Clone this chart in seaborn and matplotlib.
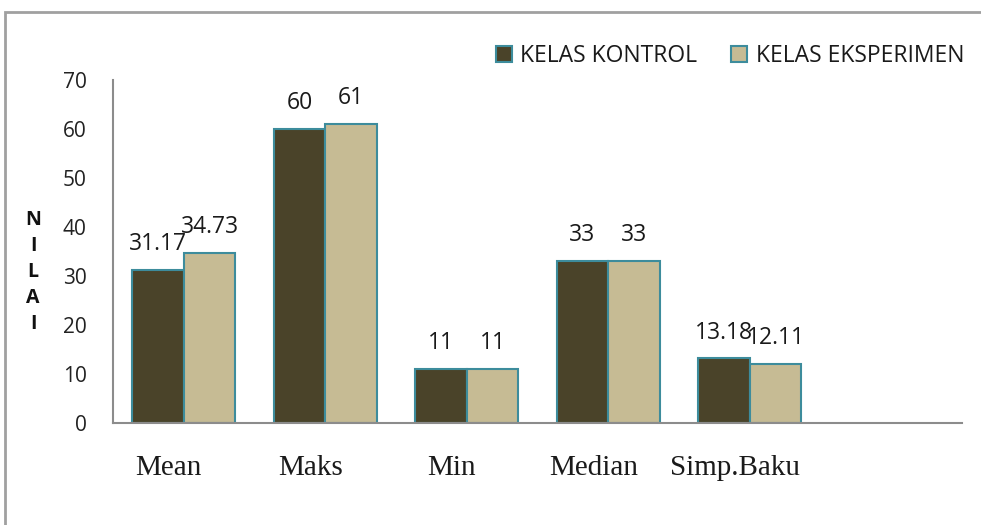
import matplotlib
matplotlib.use("Agg")
import matplotlib.pyplot as plt
import matplotlib.transforms as mtransforms
from matplotlib.patches import Rectangle, Patch
import seaborn as sns
import pandas as pd

categories = ["Mean", "Maks", "Min", "Median", "Simp.Baku"]
series_names = ["KELAS KONTROL", "KELAS EKSPERIMEN"]
kontrol = [31.17, 60, 11, 33, 13.18]
eksperimen = [34.73, 61, 11, 33, 12.11]
value_labels_kontrol = ["31.17", "60", "11", "33", "13.18"]
value_labels_eksperimen = ["34.73", "61", "11", "33", "12.11"]
yticks = [0, 10, 20, 30, 40, 50, 60, 70]

colors = ["#4a4329", "#c6bb94"]
edge = "#3d8c9c"

df = pd.DataFrame({
    "Kategori": categories * 2,
    "Kelas": [series_names[0]] * len(categories) + [series_names[1]] * len(categories),
    "Nilai": kontrol + eksperimen,
})

sns.set_style("white")
plt.rcParams["font.family"] = ["Open Sans", "DejaVu Sans"]

fig = plt.figure(figsize=(9.81, 5.25), dpi=100)
ax = fig.add_axes([113 / 981, 1 - 423 / 525, (962 - 113) / 981, (423 - 80) / 525])

sns.barplot(data=df, x="Kategori", y="Nilai", hue="Kelas", order=categories,
            hue_order=series_names, palette=colors, width=0.73, ax=ax,
            edgecolor=edge, linewidth=1.5, saturation=1, legend=False)

ax.set_xlim(-0.5, len(categories) + 0.5)
ax.set_ylim(0, 70)
ax.set_yticks(yticks)
ax.tick_params(axis="y", length=0, pad=19, labelsize=15, labelcolor="#222222")
ax.tick_params(axis="x", length=0, pad=23)
for lab in ax.get_xticklabels():
    lab.set_fontfamily("Liberation Serif")
    lab.set_fontsize(21)
    lab.set_color("#1a1a1a")
    lab.set_transform(lab.get_transform() + mtransforms.ScaledTranslation(-15 / 100, 0, fig.dpi_scale_trans))

for s in ["top", "right"]:
    ax.spines[s].set_visible(False)
for s in ["left", "bottom"]:
    ax.spines[s].set_color("#8c8c8c")
    ax.spines[s].set_linewidth(1.5)

for cont, labs in zip(ax.containers, [value_labels_kontrol, value_labels_eksperimen]):
    ax.bar_label(cont, labels=labs, padding=10, fontsize=16.5, color="#1a1a1a")

ax.set_xlabel("")
ax.set_ylabel("N\nI\nL\nA\nI", rotation=0, fontsize=14, fontweight="bold",
              linespacing=1.4, va="center", ha="center", color="#111111")
ax.yaxis.set_label_coords((33 - 113) / 849, (423 - 272) / 343)

handles = [Patch(facecolor=c, edgecolor=edge, linewidth=1.5) for c in colors]
fig.legend(handles, series_names, loc="center right",
           bbox_to_anchor=(964 / 981, 1 - 56 / 525), ncol=2, frameon=False,
           fontsize=16.5, handlelength=0.7, handleheight=0.7,
           handletextpad=0.35, columnspacing=1.5, borderpad=0, borderaxespad=0,
           labelcolor="#1a1a1a")

fig.patches.append(Rectangle((5 / 981, -0.1), 1.2, 1 - 12 / 525 + 0.1,
                             transform=fig.transFigure, fill=False,
                             edgecolor="#a0a0a0", linewidth=2, zorder=-1))

fig.savefig("out.png", dpi=100)
